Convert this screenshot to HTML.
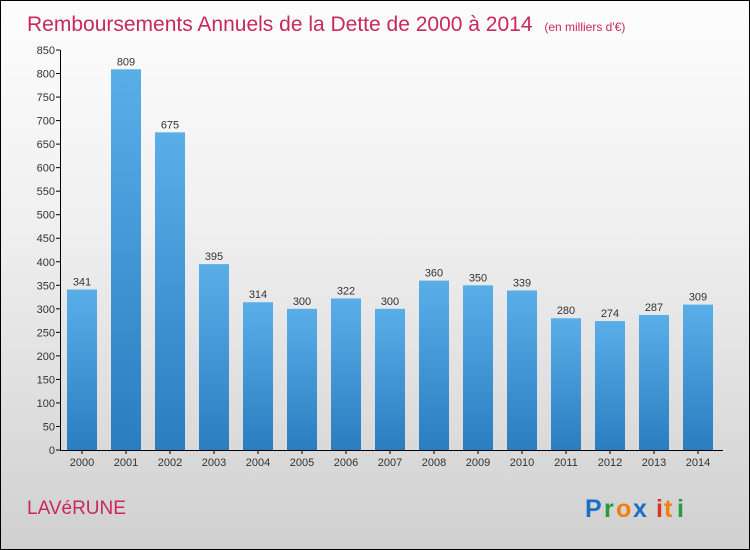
<!DOCTYPE html>
<html><head><meta charset="utf-8"><style>
body{margin:0}
#c{width:748px;height:548px;border:1px solid #000;position:relative;background:linear-gradient(#fdfdfd,#f0f0f0 40%,#d0d0d0);font-family:"Liberation Sans",sans-serif;overflow:hidden}
</style></head><body>
<div id="c">
<svg id="s" width="748" height="548">
<text x="26" y="30" font-size="21" fill="#c8285a">Remboursements Annuels de la Dette de 2000 à 2014 <tspan font-size="12" dx="6">(en milliers d'€)</tspan></text>
<text x="26" y="513" font-size="19" fill="#c8285a">LAVéRUNE</text>
<g font-size="25" font-weight="bold">
<text x="584" y="516" fill="#1a70c8">P</text><text x="603" y="516" fill="#2a9a3a">r</text><text x="615" y="516" fill="#f08010">o</text><text x="632" y="516" fill="#1a70c8">x</text><text x="655" y="516" fill="#e03020">i</text><text x="663" y="516" fill="#f08010">t</text><text x="676" y="516" fill="#2a9a3a">i</text>
</g>
<defs><linearGradient id="g" x1="0" y1="0" x2="0" y2="1"><stop offset="0" stop-color="#5aaee8"/><stop offset="1" stop-color="#2a7ec0"/></linearGradient></defs>
<g id="plot"></g>
</svg>
</div>
<script>
const years=["2000","2001","2002","2003","2004","2005","2006","2007","2008","2009","2010","2011","2012","2013","2014"];
const values=[341,809,675,395,314,300,322,300,360,350,339,280,274,287,309];
const yTicks=[0,50,100,150,200,250,300,350,400,450,500,550,600,650,700,750,800,850];
const ns="http://www.w3.org/2000/svg";
const p=document.getElementById('plot');
const y0=449,yMax=850,ph=400;
const y=v=>y0-v/yMax*ph;
const x=i=>81+i*44;
function mk(t,a,txt){const e=document.createElementNS(ns,t);for(const k in a)e.setAttribute(k,a[k]);if(txt!==undefined)e.textContent=txt;p.appendChild(e);return e;}
for(const t of yTicks){
 const e=mk('line',{x1:55,x2:59,y1:y(t),y2:y(t),stroke:'#000'});
 
 
 const l=mk('text',{x:54,y:y(t)+4,'font-size':11,'text-anchor':'end',fill:'#333'},t);
 
 
}
years.forEach((yr,i)=>{
 const b=mk('rect',{x:x(i)-15,y:y(values[i]),width:30,height:y0-y(values[i]),fill:'url(#g)'});
 
 
 const v=mk('text',{x:x(i),y:y(values[i])-4,'font-size':11,'text-anchor':'middle',fill:'#333'},values[i]);
 
 
 const tk=mk('line',{x1:x(i),x2:x(i),y1:y0,y2:y0+4,stroke:'#000'});
 
 
 const l=mk('text',{x:x(i),y:y0+16,'font-size':11,'text-anchor':'middle',fill:'#333'},yr);
 
 
});
const ya=mk('line',{x1:59.5,x2:59.5,y1:y(850),y2:y0,stroke:'#000'});


const xa=mk('line',{x1:59,x2:722,y1:y0+0.5,y2:y0+0.5,stroke:'#000'});


</script>
</body></html>
